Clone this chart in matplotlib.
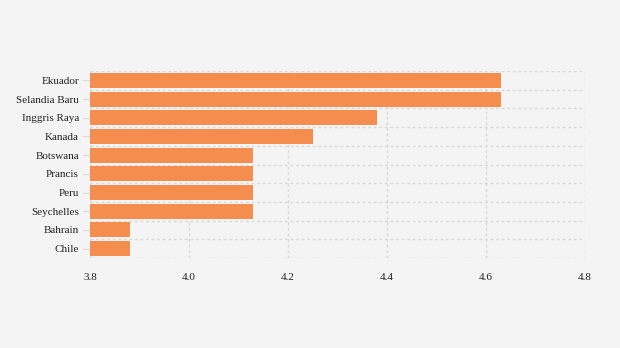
import matplotlib
matplotlib.use("Agg")
import matplotlib.pyplot as plt
import numpy as np

categories = ["Ekuador", "Selandia Baru", "Inggris Raya", "Kanada", "Botswana",
              "Prancis", "Peru", "Seychelles", "Bahrain", "Chile"]
values = [4.63, 4.63, 4.38, 4.25, 4.13, 4.13, 4.13, 4.13, 3.88, 3.88]
xticks = [3.8, 4.0, 4.2, 4.4, 4.6, 4.8]

bg = "#f4f4f4"
fig = plt.figure(figsize=(6.2, 3.48), dpi=100, facecolor=bg)
ax = fig.add_axes([90/620, 1-258/348, (585-90)/620, (258-71)/348], facecolor=bg)

n = len(categories)
y = np.arange(n)
ax.barh(y, [v - 3.8 for v in values], left=3.8, height=0.8, color="#f58d4f", zorder=3)

ax.set_xlim(3.8, 4.8)
ax.set_ylim(n - 0.5, -0.5)
ax.set_yticks(y)
ax.set_yticklabels(categories, fontfamily="Liberation Serif", fontsize=8, color="#222222")
ax.set_xticks(xticks)
ax.set_xticklabels([f"{t:.1f}" for t in xticks], fontfamily="Liberation Serif", fontsize=8, color="#222222")

# grid
for t in xticks:
    ax.axvline(t, color="#d8d8d8", linestyle=(0, (2, 2)), linewidth=1, zorder=1)
for b in np.arange(n + 1) - 0.5:
    ax.axhline(b, color="#d8d8d8", linestyle=(0, (2, 2)), linewidth=1, zorder=1)

for s in ax.spines.values():
    s.set_visible(False)
ax.tick_params(axis="y", length=5, color="#d8d8d8", pad=3)
ax.tick_params(axis="x", length=0, pad=11)

fig.savefig("out.png", dpi=100, facecolor=bg)
